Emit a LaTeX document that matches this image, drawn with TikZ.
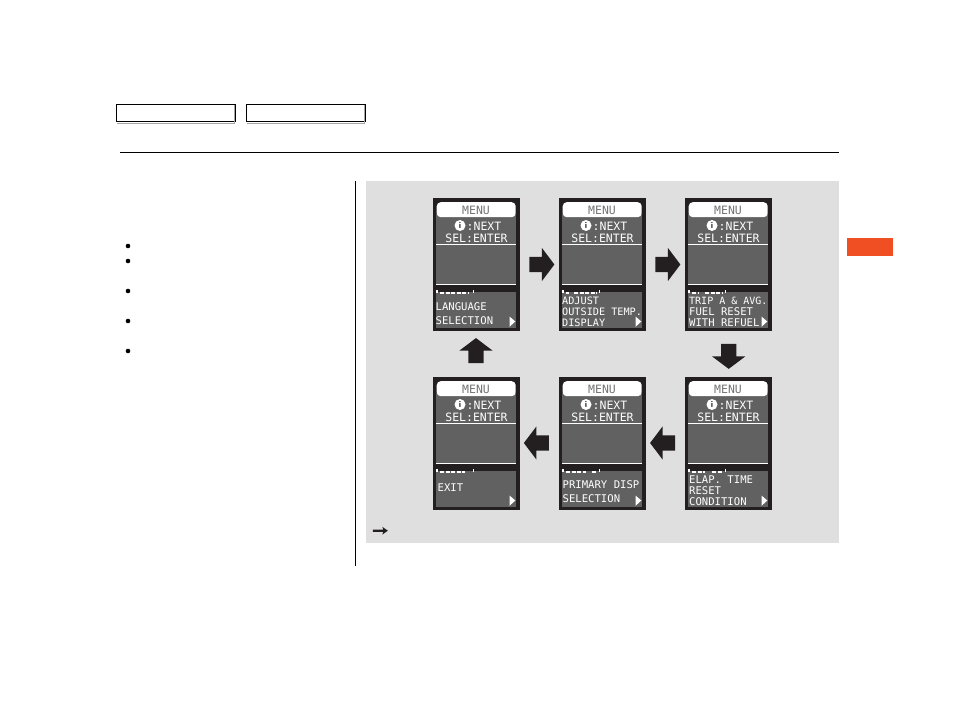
\documentclass[tikz,border=0pt]{standalone}
\usepackage{xcolor}
\usepackage{fontspec}
\usepackage{tikz}
\usetikzlibrary{shapes.arrows, arrows.meta, positioning}
\newfontfamily\lcdfont{DejaVu Sans Mono}
\definecolor{panelgray}{HTML}{DFDFDF}
\definecolor{lcdgray}{HTML}{616161}
\definecolor{lcdblack}{HTML}{231F20}
\definecolor{tabred}{HTML}{F04E23}

\begin{document}
\begin{tikzpicture}[
    x=1pt, y=-1pt,
    navbox/.style   = {rectangle, draw=black, line width=1.2pt, fill=white, anchor=north west,
                       inner sep=0pt, minimum width=119pt, minimum height=16.5pt},
    screen/.style   = {rectangle, fill=lcdblack, anchor=north west, inner sep=0pt,
                       minimum width=87.5pt, minimum height=133pt},
    upper/.style    = {rectangle, fill=lcdgray, anchor=north west, inner sep=0pt,
                       minimum width=80pt, minimum height=70pt},
    lower/.style    = {rectangle, fill=lcdgray, anchor=north west, inner sep=0pt,
                       minimum width=80pt, minimum height=35.5pt},
    pill/.style     = {rectangle, rounded corners=4pt, fill=white, anchor=north west, inner sep=0pt,
                       minimum width=79pt, minimum height=15pt},
    head/.style     = {font=\lcdfont\fontsize{11.5}{12}\selectfont, text=white, inner sep=0pt},
    lcd/.style      = {font=\lcdfont\fontsize{10.6}{11}\selectfont, text=white, inner sep=0pt, anchor=west},
    info/.style     = {circle, fill=white, inner sep=0pt, minimum size=11pt, text=lcdblack,
                       font=\sffamily\bfseries\fontsize{9}{9}\selectfont},
    blockarr/.style = {single arrow, fill=lcdblack, inner xsep=0pt, inner ysep=7.5pt,
                       minimum height=25pt, minimum width=33pt, single arrow head extend=9pt,
                       single arrow tip angle=106, single arrow head indent=0pt},
    tinyarr/.style  = {single arrow, fill=lcdblack, inner xsep=0pt, inner ysep=1pt,
                       minimum height=15pt, minimum width=7.5pt, single arrow head extend=2.7pt,
                       single arrow tip angle=70, single arrow head indent=1pt},
    ticks/.style    = {draw=white, line width=1.2pt, dash pattern=on 4pt off 1.6pt},
    bullet/.style   = {circle, fill=black, inner sep=0pt, minimum size=4.6pt}
  ]
  \useasboundingbox (0,0) rectangle (954,709);

  % ── Page furniture ─────────────────────────────────────────────────────────
  \node[navbox] (navleft)  at (116,104) {};
  \node[navbox] (navright) at (246,104) {};
  \draw[gray!70, line width=1.5pt] (navleft.north east)++(-1.6,1) |- ([xshift=1pt,yshift=-1.6pt]navleft.south west);
  \draw[gray!70, line width=1.5pt] (navright.north east)++(-1.6,1) |- ([xshift=1pt,yshift=-1.6pt]navright.south west);
  \coordinate (ruleleft)  at (120,152.5);
  \coordinate (ruleright) at (838.5,152.5);
  \draw[black, line width=0.9pt] (ruleleft) -- (ruleright);
  \coordinate (divtop) at (355,181);
  \coordinate (divbot) at (355,566);
  \draw[black, line width=0.9pt] (divtop) -- (divbot);
  \node[rectangle, fill=tabred, anchor=north west, inner sep=0pt, minimum width=46pt,
        minimum height=18pt] (sidetab) at (847,238) {};
  \node[rectangle, fill=panelgray, anchor=north west, inner sep=0pt, minimum width=472.5pt,
        minimum height=362pt] (panel) at (366,181) {};

  % ── Bullets ────────────────────────────────────────────────────────────────
  \node[bullet] (bull1) at (128,246) {};
  \node[bullet] (bull2) at (128,261) {};
  \node[bullet] (bull3) at (128,291) {};
  \node[bullet] (bull4) at (128,321) {};
  \node[bullet] (bull5) at (128,351) {};

  % ── Screens ────────────────────────────────────────────────────────────────
  \foreach \name/\sx/\sy in {lang/432.5/198, temp/558.5/198, trip/684.5/198,
                             exit/432.5/377, disp/558.5/377, elap/684.5/377} {
    \begin{scope}[shift={(\sx,\sy)}]
      \node[screen] (\name) at (0,0) {};
      \node[upper]  (\name-up) at (3.5,16) {};
      \node[lower]  (\name-lo) at (3.5,93.8) {};
      \node[pill]   (\name-pill) at (4,4) {};
      \node[head, text=gray!90!black] (\name-menu) at (43.5,12.5) {MENU};
      \node[info]   (\name-i) at (27.5,27.5) {i};
      \node[head]   (\name-next) at (51.5,28) {:NEXT};
      \node[head]   (\name-sel) at (44,40) {SEL:ENTER};
      \fill[white] (3.5,46) rectangle (83.5,47);
      \fill[white] (3.5,86.2) rectangle (83.5,87.2);
      \fill[lcdblack] (3.5,87.2) rectangle (83.5,93.8);
      \fill[white] (77,118.5) -- (82.8,123.5) -- (77,128.8) -- cycle;
      \fill[white] (3.5,91.5) rectangle (5.2,94.5);
      \fill[white] (40.6,91.5) rectangle (41.6,94.5);
    \end{scope}
  }

  % ── Progress ticks ─────────────────────────────────────────────────────────
  \draw[ticks] (440,293) -- (469,293);
  \draw[ticks] (566,293) -- (569,293) (574,293) -- (597,293);
  \draw[ticks] (692,293) -- (698,293) (705,293) -- (722,293);
  \draw[ticks] (566,472) -- (586,472) (592,472) -- (597,472);
  \draw[ticks] (440,472) -- (465,472);
  \draw[ticks] (692,472) -- (705,472) (712,472) -- (722,472);

  % ── Screen labels ──────────────────────────────────────────────────────────
  \node[lcd] (langa) at (435.5,306.5) {LANGUAGE};
  \node[lcd] (langb) at (435.5,320.5) {SELECTION};
  \node[lcd, font=\lcdfont\fontsize{10.2}{11}\selectfont] (tempa) at (562,300.5) {ADJUST};
  \node[lcd, font=\lcdfont\fontsize{10.2}{11}\selectfont] (tempb) at (562,311.5) {OUTSIDE TEMP.};
  \node[lcd, font=\lcdfont\fontsize{10.2}{11}\selectfont] (tempc) at (562,323) {DISPLAY};
  \node[lcd, font=\lcdfont\fontsize{10}{11}\selectfont] (tripa) at (689,300.5) {TRIP A \& AVG.};
  \node[lcd] (tripb) at (689,311.5) {FUEL RESET};
  \node[lcd] (tripc) at (689,322.5) {WITH REFUEL};
  \node[lcd] (exita) at (437.5,487.5) {EXIT};
  \node[lcd] (dispa) at (562.5,484.5) {PRIMARY DISP};
  \node[lcd] (dispb) at (562.5,498.5) {SELECTION};
  \node[lcd] (elapa) at (689,479.5) {ELAP. TIME};
  \node[lcd] (elapb) at (689,490.5) {RESET};
  \node[lcd] (elapc) at (689,501.5) {CONDITION};

  % ── Block arrows ───────────────────────────────────────────────────────────
  \node[blockarr]               (arrtemp) at (539,264.5) {};
  \node[blockarr]               (arrtrip) at (665,264.5) {};
  \node[blockarr, rotate=-90]   (arrelap) at (728.7,353.5) {};
  \node[blockarr, rotate=180]   (arrdisp) at (665.5,443) {};
  \node[blockarr, rotate=180]   (arrexit) at (539.3,443) {};
  \node[blockarr, rotate=90]    (arrlang) at (476,353.5) {};
  \node[tinyarr]                (arrnote) at (379.5,530.7) {};

\end{tikzpicture}
\end{document}
